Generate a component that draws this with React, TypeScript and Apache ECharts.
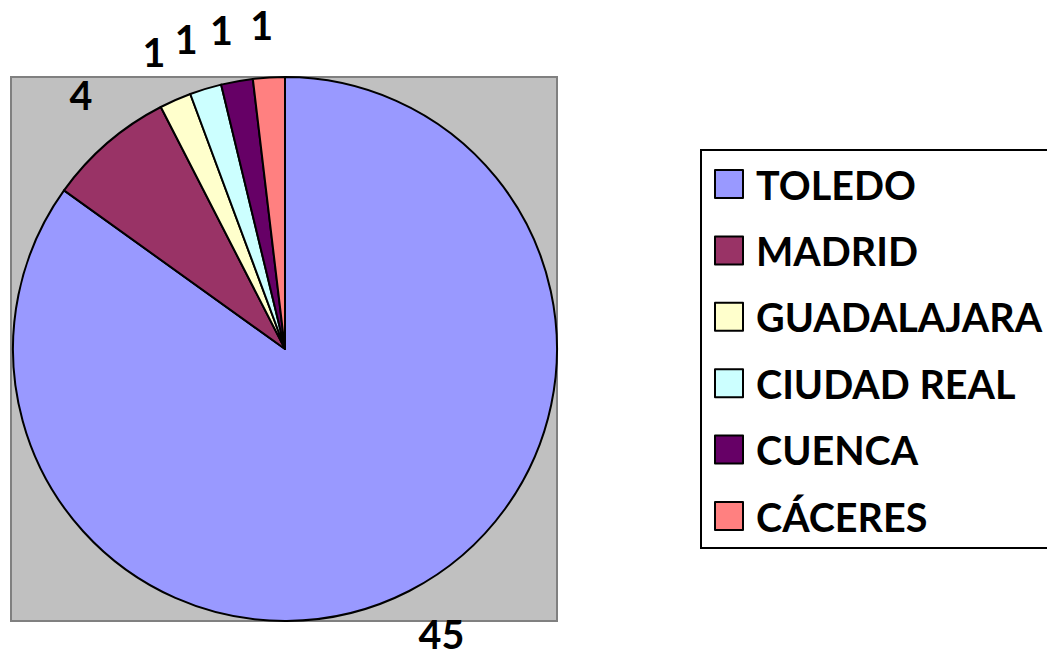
import React, { useEffect, useRef } from "react";
import * as echarts from "echarts";

const categories = ["TOLEDO", "MADRID", "GUADALAJARA", "CIUDAD REAL", "CUENCA", "CÁCERES"];
const values = [45, 4, 1, 1, 1, 1];
const colors = ["#9999FF", "#993366", "#FFFFCC", "#CCFFFF", "#660066", "#FF8080"];

const FONT = "Lato";

export default function App() {
  const ref = useRef<HTMLDivElement>(null);
  useEffect(() => {
    document.body.style.margin = "0";
    const chart = echarts.init(ref.current!, null, { renderer: "svg" });
    const labelOffsets: Record<string, number[]> = {
      TOLEDO: [8, -5],
      MADRID: [8, -8],
      "CIUDAD REAL": [-4, 0],
      CUENCA: [-6, 0],
      "CÁCERES": [-4, 0],
    };
    chart.setOption({
      animation: false,
      backgroundColor: "#ffffff",
      graphic: [
        {
          type: "rect",
          z: -10,
          shape: { x: 11, y: 77, width: 546, height: 544 },
          style: { fill: "#C0C0C0", stroke: "#808080", lineWidth: 2 },
          silent: true,
        },
      ],
      legend: {
        orient: "vertical",
        left: 701,
        top: 150,
        padding: [14, 60, 12, 13],
        borderColor: "#000000",
        borderWidth: 2,
        backgroundColor: "#ffffff",
        icon: "rect",
        itemWidth: 28,
        itemHeight: 28,
        itemGap: 26.4,
        data: categories,
        textStyle: {
          fontFamily: FONT,
          fontWeight: "bold",
          fontSize: 39.5,
          lineHeight: 40,
          color: "#000000",
          padding: [0, 0, 0, 8],
        },
      },
      series: [
        {
          type: "pie",
          center: [285, 349],
          radius: [0, 272],
          startAngle: 90,
          clockwise: true,
          silent: true,
          label: { show: false },
          labelLine: { show: false },
          itemStyle: { borderColor: "#000000", borderWidth: 2 },
          data: categories.map((name, i) => ({
            name,
            value: values[i],
            itemStyle: { color: colors[i] },
          })),
        },
        {
          type: "pie",
          center: [285, 349],
          radius: [310, 334],
          startAngle: 90,
          clockwise: true,
          silent: true,
          labelLine: { show: false },
          itemStyle: { color: "rgba(0,0,0,0)", borderWidth: 0 },
          label: {
            show: true,
            position: "inside",
            formatter: "{c}",
            fontFamily: FONT,
            fontWeight: "bold",
            fontSize: 39.5,
            lineHeight: 32,
            color: "#000000",
          },
          data: categories.map((name, i) => ({
            name,
            value: values[i],
            label: labelOffsets[name] ? { offset: labelOffsets[name] } : {},
          })),
        },
      ],
    });
    return () => chart.dispose();
  }, []);
  return <div ref={ref} style={{ width: 1047, height: 659 }} />;
}
